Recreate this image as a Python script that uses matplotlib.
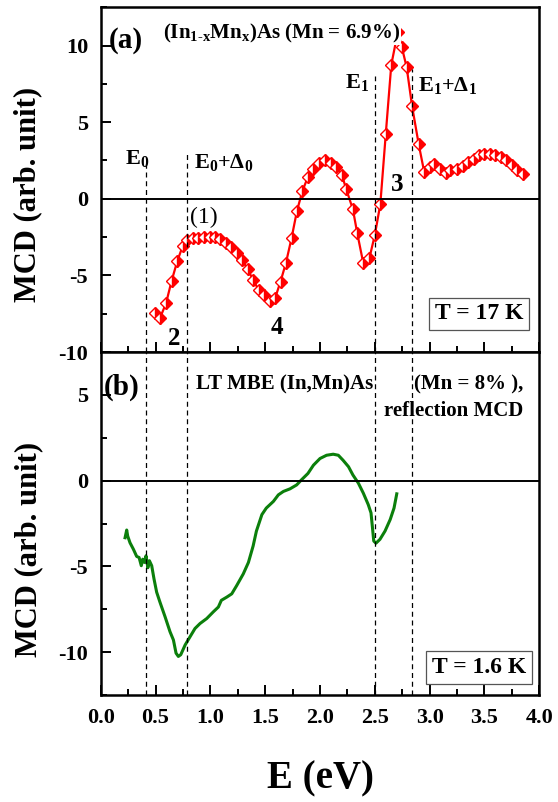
import numpy as np
import matplotlib
matplotlib.use('Agg')
import matplotlib.pyplot as plt
from matplotlib.ticker import MultipleLocator

plt.rcParams['font.family'] = ['Liberation Serif', 'DejaVu Serif']
plt.rcParams['font.weight'] = 'bold'
plt.rcParams['mathtext.default'] = 'regular'
plt.rcParams['axes.unicode_minus'] = False

# (a) (In,Mn)As, T = 17 K
E_a = [0.495, 0.54, 0.596, 0.647, 0.70, 0.748, 0.79, 0.84, 0.89, 0.94, 1.00, 1.04,
       1.09, 1.14, 1.19, 1.24, 1.29, 1.34, 1.39, 1.44, 1.49, 1.545, 1.59, 1.64,
       1.69, 1.74, 1.79, 1.84, 1.89, 1.94, 1.99, 2.045, 2.10, 2.15, 2.20, 2.24,
       2.30, 2.34, 2.395, 2.45, 2.50, 2.55, 2.60, 2.65, 2.71, 2.745, 2.79, 2.84,
       2.90, 2.95, 3.00, 3.04, 3.09, 3.15, 3.19, 3.25, 3.30, 3.35, 3.40, 3.45,
       3.50, 3.55, 3.60, 3.65, 3.70, 3.75, 3.80, 3.855]
mcd_a = [-7.46, -7.79, -6.81, -5.34, -4.03, -3.08, -2.69, -2.58, -2.58, -2.52, -2.47, -2.52,
         -2.65, -2.91, -3.17, -3.56, -3.99, -4.60, -5.29, -5.94, -6.27, -6.70, -6.49, -5.40,
         -4.16, -2.58, -0.78, 0.52, 1.43, 1.97, 2.34, 2.52, 2.34, 2.08, 1.54, 0.61,
         -0.69, -2.26, -4.21, -3.88, -2.36, -0.35, 4.25, 8.74, 10.9, 9.93, 8.59, 6.03,
         3.56, 1.76, 2.08, 2.30, 1.97, 1.69, 1.87, 1.97, 2.13, 2.41, 2.62, 2.84,
         2.95, 2.91, 2.84, 2.73, 2.56, 2.19, 1.91, 1.61]

# (b) LT MBE (In,Mn)As, reflection MCD, T = 1.6 K
E_b = [0.222, 0.237, 0.246, 0.267, 0.298, 0.328, 0.35, 0.37, 0.383, 0.40, 0.413, 0.43,
       0.444, 0.465, 0.486, 0.51, 0.54, 0.587, 0.632, 0.663, 0.687, 0.708, 0.73, 0.77,
       0.815, 0.86, 0.906, 0.967, 1.027, 1.073, 1.10, 1.15, 1.195, 1.24, 1.30, 1.347,
       1.39, 1.42, 1.47, 1.51, 1.575, 1.62, 1.666, 1.726, 1.787, 1.83, 1.89, 1.94,
       2.0, 2.06, 2.12, 2.167, 2.21, 2.26, 2.30, 2.35, 2.395, 2.44, 2.465, 2.48,
       2.49, 2.51, 2.547, 2.593, 2.64, 2.675, 2.70]
mcd_b = [-3.33, -2.88, -3.23, -3.62, -4.0, -4.42, -4.48, -4.96, -4.58, -4.77, -4.38, -5.08,
         -4.67, -4.96, -5.73, -6.5, -7.08, -7.94, -8.81, -9.29, -10.06, -10.25, -10.15, -9.58,
         -9.10, -8.62, -8.33, -8.04, -7.65, -7.37, -6.98, -6.79, -6.60, -6.12, -5.44, -4.77,
         -3.81, -2.94, -1.98, -1.60, -1.21, -0.83, -0.63, -0.48, -0.25, 0.04, 0.42, 0.90,
         1.29, 1.48, 1.54, 1.48, 1.19, 0.81, 0.33, -0.15, -0.73, -1.40, -1.88, -2.85,
         -3.52, -3.65, -3.42, -2.94, -2.27, -1.60, -0.77]

# critical points (eV) and how high their dashed lines reach in panel (a)
E_crit = [0.41, 0.79, 2.50, 2.84]
crit_top = [2.3, 3.0, 8.0, 8.5]

fig = plt.figure(figsize=(5.58, 8.02), dpi=100)
ax1 = fig.add_axes([0.1805, 0.561, 0.786, 0.430])
ax2 = fig.add_axes([0.1805, 0.1334, 0.786, 0.4277], sharex=ax1)

ax1.plot(E_a, mcd_a, '-', color='red', lw=1.6, marker='D', ms=6, fillstyle='right',
         markerfacecolor='red', markerfacecoloralt='white', markeredgecolor='red',
         markeredgewidth=1.0)
ax2.plot(E_b, mcd_b, '-', color='#0b7f0b', lw=2.2)

for ax in (ax1, ax2):
    ax.axhline(0, color='black', lw=1.4)
    ax.set_xlim(0, 4.0)
    ax.xaxis.set_major_locator(MultipleLocator(0.5))
    ax.xaxis.set_minor_locator(MultipleLocator(0.25))
    ax.yaxis.set_major_locator(MultipleLocator(5))
    ax.yaxis.set_minor_locator(MultipleLocator(2.5))
    ax.tick_params(which='both', direction='in', top=False, right=False, width=1.4)
    ax.tick_params(which='major', length=7, labelsize=16)
    ax.tick_params(axis='y', which='major', pad=9)
    ax.tick_params(axis='x', which='major', pad=9)
    ax.tick_params(which='minor', length=4)
    for s in ax.spines.values():
        s.set_linewidth(1.8)
    ax.set_ylabel('MCD (arb. unit)', fontsize=22, fontweight='bold')

ax1.yaxis.set_label_coords(-0.134, 0.458)
ax2.yaxis.set_label_coords(-0.130, 0.423)

ax1.set_ylim(-10, 12.5)
ax2.set_ylim(-12.5, 7.5)
ax1.tick_params(labelbottom=False)

for e, top in zip(E_crit, crit_top):
    ax1.vlines(e, -10, top, colors='black', linestyles=(0, (4, 3)), lw=0.9)
    ax2.axvline(e, color='black', ls=(0, (4, 3)), lw=0.9)

ax2.set_xlabel('E (eV)', fontsize=28, fontweight='bold', labelpad=24)

# panel (a) texts
ax1.text(0.07, 10.3, '(a)', fontsize=21, fontweight='bold', ha='left', va='center')
ax1.text(0.57, 10.8, '(In$_{1\u2010x}$Mn$_x$)As (Mn = 6.9%)', fontsize=15, fontweight='bold',
         ha='left', va='center', zorder=5,
         bbox=dict(facecolor='white', edgecolor='none', pad=0.5))
ax1.text(0.22, 2.6, 'E$_0$', fontsize=16, fontweight='bold', ha='left', va='center')
ax1.text(0.85, 2.4, 'E$_0$+\u0394$_0$', fontsize=16, fontweight='bold', ha='left', va='center')
ax1.text(2.23, 7.6, 'E$_1$', fontsize=16, fontweight='bold', ha='left', va='center')
ax1.text(2.89, 7.4, 'E$_1$+\u0394$_1$', fontsize=16, fontweight='bold', ha='left', va='center')
ax1.text(0.81, -1.2, '(1)', fontsize=17, fontweight='normal', ha='left', va='center')
ax1.text(0.67, -9.1, '2', fontsize=18, fontweight='bold', ha='center', va='center')
ax1.text(1.61, -8.4, '4', fontsize=18, fontweight='bold', ha='center', va='center')
ax1.text(2.70, 0.95, '3', fontsize=18, fontweight='bold', ha='center', va='center')
ax1.text(0.963, 0.08, 'T = 17 K', transform=ax1.transAxes, fontsize=17, fontweight='bold',
         ha='right', va='bottom',
         bbox=dict(facecolor='white', edgecolor='#555555', lw=0.9, pad=4))

# panel (b) texts
ax2.text(0.03, 5.45, '(b)', fontsize=21, fontweight='bold', ha='left', va='center')
ax2.text(0.87, 5.6, 'LT MBE (In,Mn)As', fontsize=15, fontweight='bold', ha='left', va='center')
ax2.text(2.86, 5.6, '(Mn = 8% ),', fontsize=15, fontweight='bold', ha='left', va='center')
ax2.text(2.58, 4.05, 'reflection MCD', fontsize=15, fontweight='bold', ha='left', va='center')
ax2.text(0.97, 0.05, 'T = 1.6 K', transform=ax2.transAxes, fontsize=17, fontweight='bold',
         ha='right', va='bottom',
         bbox=dict(facecolor='white', edgecolor='#555555', lw=0.9, pad=4))

fig.savefig('out.png', dpi=100)
